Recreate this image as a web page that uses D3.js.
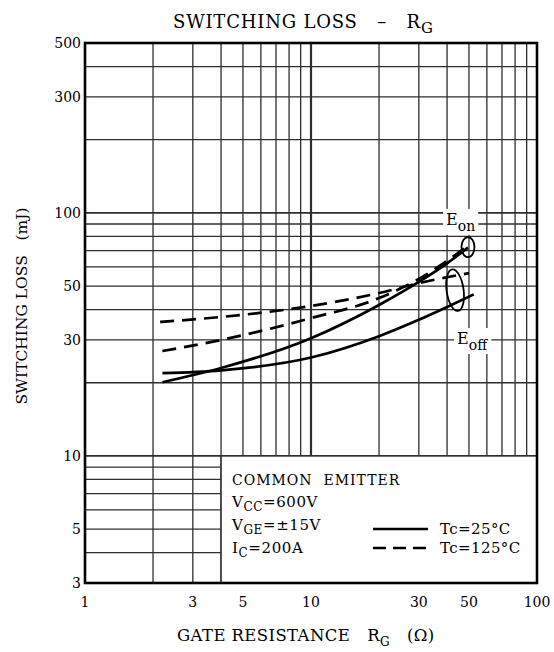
<!DOCTYPE html>
<html>
<head>
<meta charset="utf-8">
<script src="https://cdn.jsdelivr.net/npm/d3@7"></script>
<style>
  body { margin: 0; background: #fff; }
  svg { font-family: "DejaVu Serif", "Liberation Serif", serif; }
</style>
</head>
<body>
<svg id="chart" width="554" height="652"></svg>
<script>
// axis ticks and grid
var rgTicks = [1, 3, 5, 10, 30, 50, 100];
var lossTicks = [3, 5, 10, 30, 50, 100, 300, 500];
var rgGrid = [2, 3, 4, 5, 6, 7, 8, 9, 10, 20, 30, 40, 50, 60, 70, 80, 90];
var lossGrid = [4, 5, 6, 7, 8, 9, 10, 20, 30, 40, 50, 60, 70, 80, 90, 100, 200, 300, 400];

// [RG (ohm), loss (mJ)]
var eon25 = [[2.2, 20.1], [4, 23.0], [10, 30.5], [20, 41.8], [30, 52], [40, 62], [49.5, 72]];
var eoff25 = [[2.2, 21.9], [4, 22.5], [10, 25.4], [20, 31.1], [30, 36.3], [40, 41.0], [52.5, 46.2]];
var eon125 = [[2.2, 27.0], [4, 30.0], [10, 36.9], [20, 44.6], [30, 53.5], [50, 73.8]];
var eoff125 = [[2.15, 35.6], [4, 37.3], [10, 41.4], [20, 46.8], [30, 51.4], [50, 56.5]];

var svg = d3.select("#chart");

var x = d3.scaleLog().domain([1, 100]).range([85, 537]);
var y = d3.scaleLog().domain([3, 500]).range([583, 43]);

var gridColor = "#2e2e2e";

// grid
var grid = svg.append("g").attr("stroke", gridColor);
grid.selectAll(".gx").data(rgGrid).enter().append("line")
  .attr("x1", function(d) { return x(d); })
  .attr("x2", function(d) { return x(d); })
  .attr("y1", y(3)).attr("y2", y(500))
  .attr("stroke-width", function(d) { return d === 10 ? 2.2 : 1.3; });
grid.selectAll(".gy").data(lossGrid).enter().append("line")
  .attr("x1", x(1)).attr("x2", x(100))
  .attr("y1", function(d) { return y(d); })
  .attr("y2", function(d) { return y(d); })
  .attr("stroke-width", function(d) { return (d === 10 || d === 100) ? 1.8 : 1.3; });

// condition box (covers grid lower right)
svg.append("rect")
  .attr("x", x(4)).attr("y", y(10))
  .attr("width", x(100) - x(4)).attr("height", y(3) - y(10))
  .attr("fill", "#fff").attr("stroke", gridColor).attr("stroke-width", 1.5);

// frame
svg.append("rect")
  .attr("x", x(1)).attr("y", y(500))
  .attr("width", x(100) - x(1)).attr("height", y(3) - y(500))
  .attr("fill", "none").attr("stroke", "#000").attr("stroke-width", 2.6);

// curves
var line = d3.line()
  .x(function(d) { return x(d[0]); })
  .y(function(d) { return y(d[1]); })
  .curve(d3.curveMonotoneX);

var series = [
  { data: eon25, dash: null },
  { data: eoff25, dash: null },
  { data: eon125, dash: "14,8" },
  { data: eoff125, dash: "14,8" }
];
svg.selectAll(".curve").data(series).enter().append("path")
  .attr("d", function(d) { return line(d.data); })
  .attr("fill", "none")
  .attr("stroke", "#000")
  .attr("stroke-width", 2.7)
  .attr("stroke-dasharray", function(d) { return d.dash; });

// group ellipses
svg.append("ellipse")
  .attr("cx", x(49.5)).attr("cy", y(72.3))
  .attr("rx", 6.5).attr("ry", 10)
  .attr("fill", "none").attr("stroke", "#000").attr("stroke-width", 1.8);
svg.append("ellipse")
  .attr("cx", x(43.4)).attr("cy", y(48.1))
  .attr("rx", 8.5).attr("ry", 21)
  .attr("transform", "rotate(-8," + x(43.4) + "," + y(48.1) + ")")
  .attr("fill", "none").attr("stroke", "#000").attr("stroke-width", 1.8);

// labels with white backing
function backed(px, py, main, sub) {
  var g = svg.append("g");
  var r = g.append("rect").attr("fill", "#fff");
  var t = g.append("text").attr("x", px).attr("y", py).attr("font-size", 16);
  t.append("tspan").text(main);
  t.append("tspan").attr("font-size", 14).attr("dy", 6).text(sub);
  var b = t.node().getBBox();
  r.attr("x", b.x - 3).attr("y", b.y - 1).attr("width", b.width + 6).attr("height", b.height + 2);
}
backed(x(40) - 1, y(100) + 12, "E", "on");
backed(x(40) + 10, y(30) + 4, "E", "off");

// tick labels
svg.append("g").selectAll("text").data(lossTicks).enter().append("text")
  .attr("x", 81).attr("y", function(d) { return y(d); })
  .attr("dy", "0.36em").attr("text-anchor", "end")
  .attr("font-size", 14).text(function(d) { return d; });
svg.append("g").selectAll("text").data(rgTicks).enter().append("text")
  .attr("x", function(d) { return x(d); }).attr("y", 607)
  .attr("text-anchor", "middle")
  .attr("font-size", 14).text(function(d) { return d; });

// title
var title = svg.append("text").attr("x", 173).attr("y", 28)
  .attr("font-size", 18).attr("letter-spacing", 0.8).attr("xml:space", "preserve");
title.append("tspan").text("SWITCHING LOSS   \u2013   R");
title.append("tspan").attr("font-size", 15).attr("dy", 5).text("G");

// axis titles
svg.append("text")
  .attr("transform", "translate(27,306) rotate(-90)")
  .attr("text-anchor", "middle").attr("font-size", 15.5)
  .attr("xml:space", "preserve")
  .text("SWITCHING LOSS   (mJ)");

var xt = svg.append("text").attr("x", 177).attr("y", 641)
  .attr("font-size", 16.5).attr("letter-spacing", 0.4).attr("xml:space", "preserve");
xt.append("tspan").text("GATE RESISTANCE   R");
xt.append("tspan").attr("font-size", 12).attr("dy", 5).text("G");
xt.append("tspan").attr("dy", -5).text("   (\u03a9)");

// conditions
var cx0 = 232;
svg.append("text").attr("x", cx0).attr("y", 485).attr("font-size", 14)
  .attr("letter-spacing", 1).attr("xml:space", "preserve").text("COMMON  EMITTER");
var conds = [["V", "CC", "=600V", 507], ["V", "GE", "=\u00b115V", 530], ["I", "C", "=200A", 553]];
conds.forEach(function(c) {
  var t = svg.append("text").attr("x", cx0).attr("y", c[3]).attr("font-size", 15)
    .attr("letter-spacing", 0.6);
  t.append("tspan").text(c[0]);
  t.append("tspan").attr("font-size", 12).attr("dy", 4).text(c[1]);
  t.append("tspan").attr("dy", -4).text(c[2]);
});

// legend
var legend = [["Tc=25\u00b0C", null, 529], ["Tc=125\u00b0C", "13,7", 548]];
legend.forEach(function(l) {
  svg.append("line").attr("x1", 373).attr("x2", 428).attr("y1", l[2]).attr("y2", l[2])
    .attr("stroke", "#000").attr("stroke-width", 2.7).attr("stroke-dasharray", l[1]);
  svg.append("text").attr("x", 440).attr("y", l[2] + 5).attr("font-size", 15)
    .attr("letter-spacing", 0.4).text(l[0]);
});
</script>
</body>
</html>
